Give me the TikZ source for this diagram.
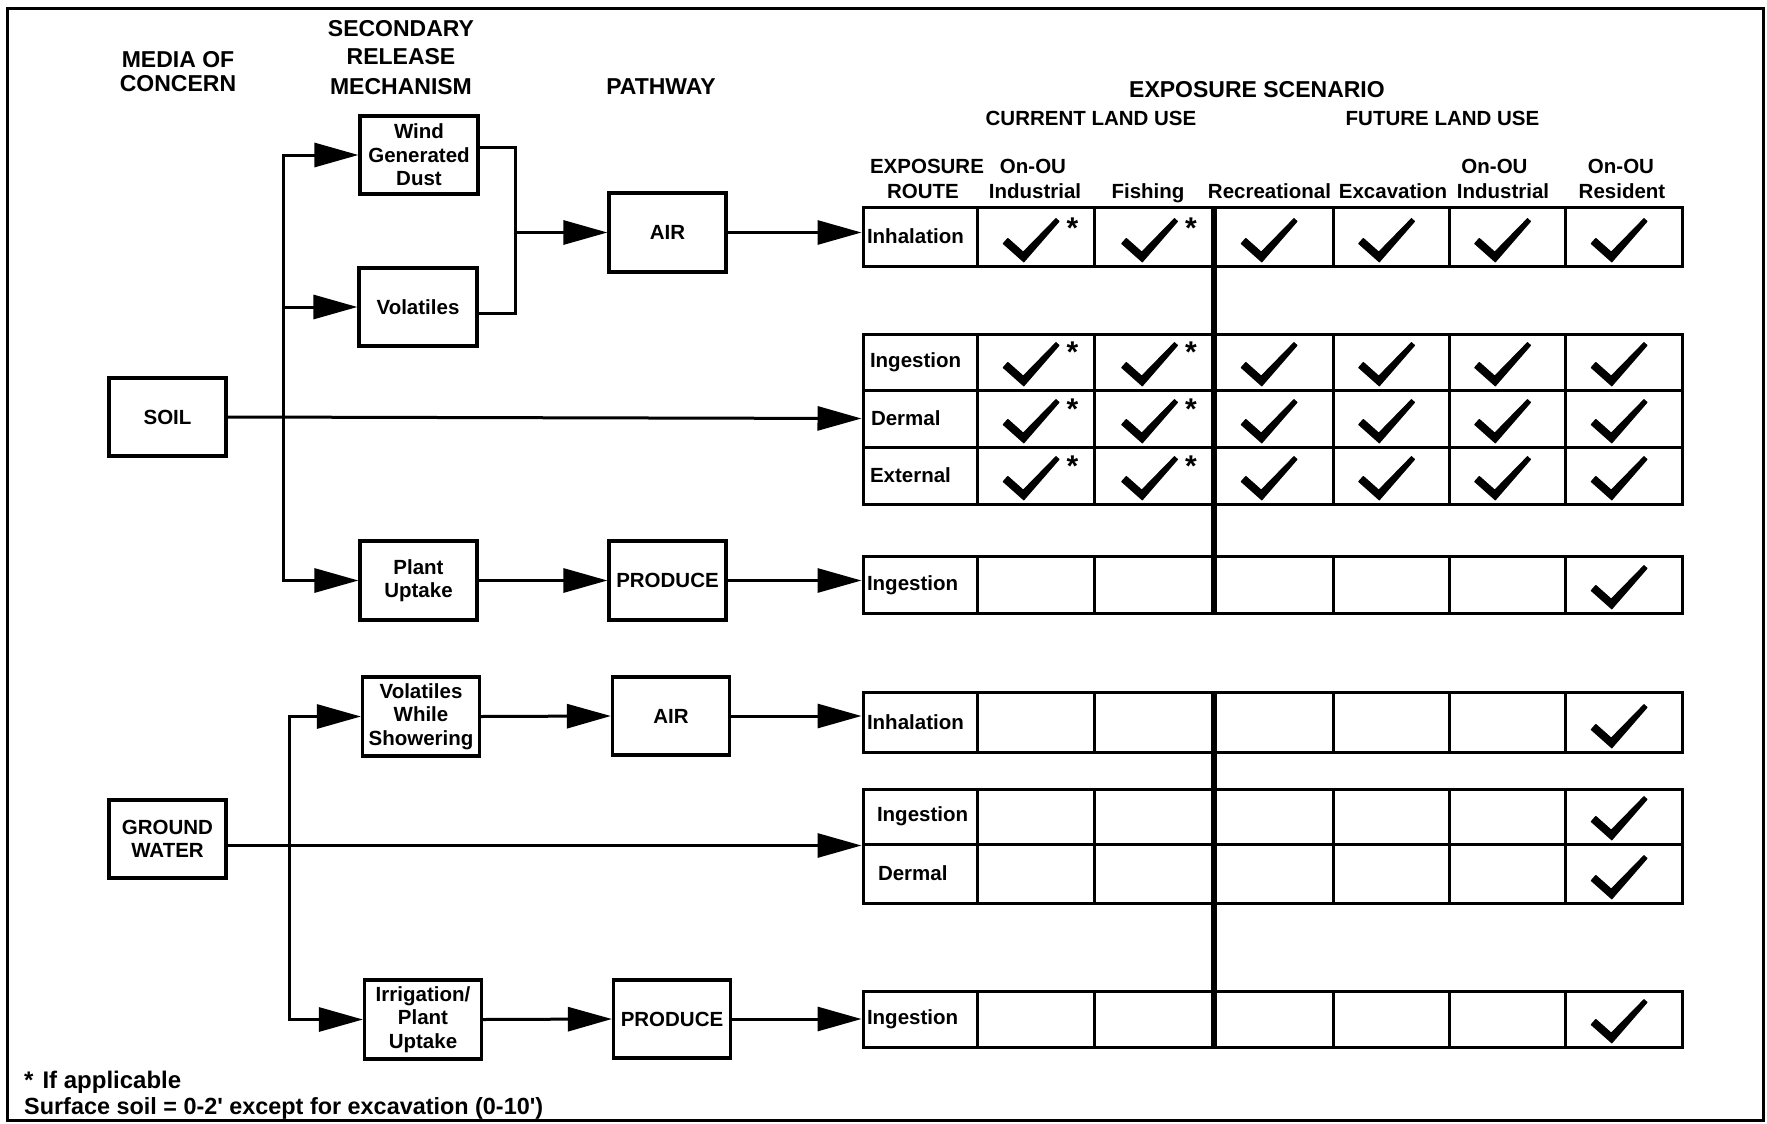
\documentclass[tikz,border=0pt]{standalone}
\usepackage{fontspec}
\setmainfont{Liberation Sans}
\usetikzlibrary{arrows.meta,calc}

\begin{document}
\begin{tikzpicture}[x=1pt,y=-1pt,
  every node/.style={inner sep=0pt},
  hdr/.style={font=\bfseries\fontsize{23}{26}\selectfont, anchor=base},
  sub/.style={font=\bfseries\fontsize{20.5}{23}\selectfont, anchor=base},
  box/.style={draw, line width=3.2pt, align=center,
    font=\bfseries\fontsize{20.5}{23.5}\selectfont},
  route/.style={draw, line width=3pt, minimum width=114, text width=106,
    align=left, inner xsep=4pt, font=\bfseries\fontsize{20.5}{23}\selectfont},
  grid/.style={line width=3pt},
  conn/.style={line width=3pt},
  arr/.style={conn, -{Triangle[length=44pt,width=24pt]}},
  sep/.style={line width=6pt},
  note/.style={anchor=base west, font=\bfseries\fontsize{23.4}{26}\selectfont},
  tick/.pic={\fill[draw, line width=1pt, line join=round]
     (-15.7,-18.6) -- (-20.3,-13.4) -- (0.3,4.9) -- (35.5,-35.6)
     -- (32.5,-38.4) -- (-0.3,-4.9) -- cycle;},
  tickast/.pic={\fill[draw, line width=1pt, line join=round]
     (-15.7,-18.6) -- (-20.3,-13.4) -- (0.3,4.9) -- (35.5,-35.6)
     -- (32.5,-38.4) -- (-0.3,-4.9) -- cycle;
     \node[anchor=north, font=\bfseries\fontsize{30}{30}\selectfont] (-ast) at (49,-39) {*};},
]
\useasboundingbox (0,0) rectangle (1767,1124);
\draw[line width=3pt] (7,9) rectangle (1763,1120);

% column headings
\node[hdr] (hMed1) at (178,67) {MEDIA OF};
\node[hdr] (hMed2) at (178,92) {CONCERN};
\node[hdr] (hSec1) at (401,37) {SECONDARY};
\node[hdr] (hSec2) at (401,65) {RELEASE};
\node[hdr] (hSec3) at (401,94) {MECHANISM};
\node[hdr] (hPath) at (661,95) {PATHWAY};
\node[hdr] (hExp) at (1257,97) {EXPOSURE SCENARIO};
\node[sub] (hCur) at (1091,125) {CURRENT LAND USE};
\node[sub] (hFut) at (1442.5,125) {FUTURE LAND USE};
\node[sub] (hR1) at (927,173) {EXPOSURE};
\node[sub] (hR2) at (923,198) {ROUTE};
\node[sub] (hA1) at (1033,173) {On-OU};
\node[sub] (hA2) at (1035,198) {Industrial};
\node[sub] (hB) at (1148,198) {Fishing};
\node[sub] (hC) at (1269.5,198) {Recreational};
\node[sub] (hD) at (1393,198) {Excavation};
\node[sub] (hE1) at (1494.5,173) {On-OU};
\node[sub] (hE2) at (1503,198) {Industrial};
\node[sub] (hF1) at (1621,173) {On-OU};
\node[sub] (hF2) at (1622,198) {Resident};

% media, release mechanisms and pathways
\node[box, minimum width=117, minimum height=78] (soil) at (167.5,417) {SOIL};
\node[box, minimum width=117, minimum height=78] (gw) at (167.5,839) {GROUND\\WATER};
\node[box, minimum width=118, minimum height=78] (wind) at (419,155) {Wind\\Generated\\Dust};
\node[box, minimum width=118, minimum height=78] (vol) at (418,307) {Volatiles};
\node[box, minimum width=117, minimum height=79] (plant) at (418.5,580.5) {Plant\\Uptake};
\node[box, minimum width=117, minimum height=79] (air1) at (667.5,232.5) {AIR};
\node[box, minimum width=117, minimum height=79] (prod1) at (667.5,580.5) {PRODUCE};
\node[box, minimum width=117, minimum height=79] (vws) at (421,716.5) {Volatiles\\While\\Showering};
\node[box, minimum width=117, minimum height=78] (air2) at (671,716) {AIR};
\node[box, minimum width=117, minimum height=79] (irr) at (423,1019.5) {Irrigation/\\Plant\\Uptake};
\node[box, minimum width=117, minimum height=78] (prod2) at (672,1019) {PRODUCE};

% exposure route cells
\node[route, minimum height=59] (sInh) at (920,236.5) {Inhalation};
\node[route, minimum height=55.5] (sIng) at (920,362.25) {\hspace*{3pt}Ingestion};
\node[route, minimum height=57] (sDer) at (920,418.5) {\hspace*{4pt}Dermal};
\node[route, minimum height=57] (sExt) at (920,475.5) {\hspace*{3pt}External};
\node[route, minimum height=56.5] (sIngP) at (920,584.75) {Ingestion};
\node[route, minimum height=60] (gInh) at (920,722) {Inhalation};
\node[route, minimum height=55] (gIng) at (920,816.5) {\hspace*{10pt}Ingestion};
\node[route, minimum height=59] (gDer) at (920,873.5) {\hspace*{11pt}Dermal};
\node[route, minimum height=56] (gIngP) at (920,1019) {Ingestion};

% scenario cells
\foreach \ya/\yb in {207/266, 334.5/390, 390/447, 447/504, 556.5/613,
                     692/752, 789/844, 844/903, 991/1047}
  \foreach \xa/\xb in {977/1094, 1094/1214, 1214/1333, 1333/1449,
                       1449/1565, 1565/1682}
    \draw[grid] (\xa,\ya) rectangle (\xb,\yb);

% current / future land use divide
\draw[sep] (1214,207) -- (1214,613);
\draw[sep] (1214,692) -- (1214,1047);

% soil connectors
\coordinate (st) at (283,417);
\draw[arr] (soil.east) -- (sDer.west);
\draw[arr] (st) |- (wind.west);
\draw[arr] (st) |- (plant.west);
\draw[arr] (st |- vol.west) -- (vol.west);
\coordinate (mg) at (515.5,232.5);
\draw[conn] ([yshift=8pt]wind.east) -| (mg) |- ([yshift=-6pt]vol.east);
\draw[arr] (mg) -- (air1.west);
\draw[arr] (air1.east) -- (air1.east -| sInh.west);
\draw[arr] (plant.east) -- (prod1.west);
\draw[arr] (prod1.east) -- (prod1.east -| sIngP.west);

% groundwater connectors
\coordinate (gt) at (289,844);
\draw[arr] (gw.east |- gIng.south west) -- (gIng.south west);
\draw[arr] (gt) |- (vws.west);
\draw[arr] (gt) |- (irr.west);
\draw[arr] (vws.east) -- (air2.west);
\draw[arr] (air2.east) -- (air2.east -| gInh.west);
\draw[arr] (irr.east) -- (prod2.west);
\draw[arr] (prod2.east) -- (prod2.east -| gIngP.west);

% check marks
\foreach \r/\vy in {1/257, 2/381, 3/438, 4/495} {
  \pic (a\r) at (1023.5,\vy) {tickast};
  \pic (b\r) at (1142,\vy) {tickast};
  \foreach \vx in {1261.5, 1379, 1495, 1611.5}
    \pic at (\vx,\vy) {tick};
}
\foreach \vy in {604, 743, 835, 894, 1038}
  \pic at (1611.5,\vy) {tick};

% notes
\node[note, font=\bfseries\fontsize{24}{26}\selectfont] (fn1) at (24,1088) {*\hspace{9pt}If applicable};
\node[note] (fn2) at (24,1114) {Surface soil = 0-2\textquotesingle{} except for excavation (0-10\textquotesingle)};
\end{tikzpicture}
\end{document}
